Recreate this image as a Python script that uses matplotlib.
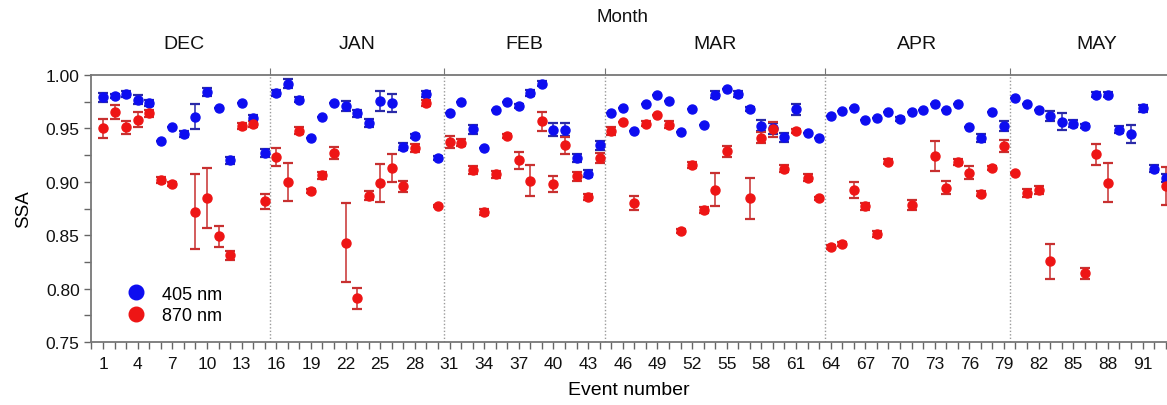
import numpy as np
import matplotlib
matplotlib.use("Agg")
import matplotlib.pyplot as plt
from matplotlib.lines import Line2D
from matplotlib.ticker import MultipleLocator, FixedLocator

plt.rcParams['font.family'] = ['Liberation Sans', 'DejaVu Sans']

nan = np.nan
events = np.arange(1, 94)

ssa405 = [0.979, 0.980, 0.982, 0.977, 0.974, 0.938, 0.951, 0.945, 0.961, 0.984,
          0.969, 0.920, 0.974, 0.9595, 0.927, 0.983, 0.992, 0.977, 0.941, 0.961,
          0.974, 0.971, 0.964, 0.955, 0.9755, 0.974, 0.933, 0.943, 0.982, 0.922,
          0.964, 0.9745, 0.949, 0.932, 0.967, 0.975, 0.971, 0.983, 0.992, 0.9486,
          0.9486, 0.9224, 0.9077, 0.934, 0.964, 0.9695, 0.948, 0.973, 0.9817, 0.9754,
          0.947, 0.968, 0.9536, 0.9817, 0.9866, 0.9822, 0.968, 0.9527, 0.950, 0.9417,
          0.968, 0.9457, 0.941, 0.9617, 0.9664, 0.9688, 0.9583, 0.960, 0.965, 0.9589,
          0.9654, 0.967, 0.9729, 0.9673, 0.9732, 0.9514, 0.941, 0.9657, 0.9523, 0.9788,
          0.9732, 0.9676, 0.9617, 0.9564, 0.9545, 0.9523, 0.9817, 0.9817, 0.9489, 0.9445,
          0.9688, 0.9124, 0.9034]
err405 = [0.004, 0.002, 0.003, 0.004, 0.003, 0, 0, 0.003, 0.012, 0.004,
          0, 0.003, 0, 0.003, 0.004, 0.003, 0.004, 0.002, 0, 0,
          0, 0.005, 0.003, 0.004, 0.0095, 0.0085, 0.003, 0.002, 0.003, 0.002,
          0, 0, 0.004, 0, 0, 0, 0.002, 0.003, 0.002, 0.006,
          0.006, 0.004, 0.003, 0.0045, 0, 0, 0, 0, 0, 0,
          0, 0, 0, 0.003, 0, 0.003, 0.002, 0.005, 0.005, 0.004,
          0.005, 0, 0, 0, 0, 0, 0, 0, 0, 0.002,
          0, 0, 0, 0, 0, 0, 0.004, 0, 0.005, 0,
          0, 0, 0.005, 0.008, 0.003, 0.002, 0.002, 0.002, 0.003, 0.0085,
          0.003, 0.003, 0.004]

ssa870 = [0.950, 0.965, 0.951, 0.958, 0.964, 0.9015, 0.898, nan, 0.872, 0.8847,
          0.849, 0.831, 0.952, 0.954, 0.882, 0.923, 0.900, 0.948, 0.8915, 0.906,
          0.927, 0.843, 0.791, 0.887, 0.899, 0.913, 0.8956, 0.9315, 0.974, 0.877,
          0.937, 0.9367, 0.911, 0.872, 0.907, 0.9427, 0.920, 0.901, 0.9567, 0.8975,
          0.934, 0.905, 0.886, 0.9224, 0.9476, 0.956, 0.880, 0.9545, 0.9626, 0.9536,
          0.854, 0.9155, 0.8734, 0.8925, 0.9286, nan, 0.8844, 0.9414, 0.949, 0.9124,
          0.9476, 0.904, 0.8844, 0.839, 0.8416, 0.8925, 0.8769, 0.851, 0.919, nan,
          0.8784, nan, 0.9243, 0.8946, 0.9187, 0.9087, 0.889, 0.9127, 0.9336, 0.9087,
          0.8893, 0.8925, 0.8254, nan, nan, 0.8142, 0.9258, 0.8993, nan, nan,
          nan, nan, 0.8962]
err870 = [0.009, 0.0065, 0.006, 0.007, 0.003, 0.003, 0.002, 0, 0.035, 0.028,
          0.010, 0.004, 0.003, 0.003, 0.007, 0.0086, 0.018, 0.003, 0.002, 0.003,
          0.006, 0.037, 0.010, 0.004, 0.018, 0.013, 0.005, 0.004, 0.003, 0.001,
          0.0055, 0.003, 0.004, 0.003, 0.003, 0.002, 0.008, 0.0145, 0.0087, 0.0075,
          0.0078, 0.004, 0.003, 0.005, 0.004, 0, 0.0067, 0.002, 0, 0.003,
          0.002, 0.003, 0.003, 0.0155, 0.005, 0, 0.019, 0.005, 0.007, 0.003,
          0.002, 0.003, 0.001, 0.002, 0.002, 0.0076, 0.003, 0.003, 0.002, 0,
          0.005, 0, 0.014, 0.006, 0.003, 0.006, 0.002, 0.002, 0.006, 0,
          0.004, 0.004, 0.0168, 0, 0, 0.005, 0.010, 0.018, 0, 0,
          0, 0, 0.018]

months = ['DEC', 'JAN', 'FEB', 'MAR', 'APR', 'MAY']
month_edges = [0.5, 15.5, 30.5, 44.5, 63.5, 79.5, 94.5]

blue = '#0d0df0'
red = '#ee1515'

W, H = 1167, 406
fig = plt.figure(figsize=(W / 100, H / 100), dpi=100)
x0, x1 = 0, 93.12
ax = fig.add_axes([91.45 / W, 63 / H, 1 - 91.45 / W, 267 / H])

for xs, ys, es, c, ec in [(events, ssa405, err405, blue, '#2a2aa8'),
                          (events, ssa870, err870, red, '#c83030')]:
    ax.errorbar(xs, ys, yerr=es, fmt='none', ecolor=ec, elinewidth=1.1,
                capsize=3.6, capthick=1.6, zorder=2, clip_on=False)
    ax.plot(xs, ys, 'o', color=c, ms=6.5, mec=c, zorder=3, clip_on=False)

for e in month_edges[1:-1]:
    ax.axvline(e, color='#9a9a9a', ls=(0, (1, 1.5)), lw=1, zorder=1)

ax.set_xlim(x0, x1)
ax.set_ylim(0.75, 1.0)
ax.xaxis.set_major_locator(FixedLocator(list(range(1, 94, 3))))
ax.xaxis.set_minor_locator(MultipleLocator(1))
ax.yaxis.set_major_locator(MultipleLocator(0.05))
ax.yaxis.set_minor_locator(MultipleLocator(0.025))
ax.yaxis.set_major_formatter(matplotlib.ticker.FormatStrFormatter('%.2f'))
ax.tick_params(which='both', direction='out', color='#666666', width=1,
               labelsize=12.5, labelcolor='#111111')
ax.tick_params(axis='x', which='both', length=5, pad=5)
ax.tick_params(axis='y', which='both', length=5)
for s in ['left', 'bottom', 'top']:
    ax.spines[s].set_color('#777777')
    ax.spines[s].set_linewidth(1.3)
ax.spines['right'].set_visible(False)

ax.set_xlabel('Event number', fontsize=14, labelpad=7)
ax.set_ylabel('SSA', fontsize=13.5, labelpad=10)

# top axis: month boundaries and names
top = ax.twiny()
top.set_xlim(x0, x1)
top.xaxis.set_major_locator(FixedLocator(month_edges[1:-1]))
top.xaxis.set_major_formatter(matplotlib.ticker.NullFormatter())
top.tick_params(axis='x', which='major', direction='out', length=5,
                color='#777777')
for s in top.spines.values():
    s.set_visible(False)
for i, m in enumerate(months):
    cx = (month_edges[i] + month_edges[i + 1]) / 2
    top.text(cx, 1.118, m, transform=top.get_xaxis_transform(), ha='center',
             va='center', fontsize=14, color='#111111')
fig.text(622 / W, 1 - 18 / H, 'Month', ha='center', va='center',
         fontsize=13.5, color='#111111')

handles = [Line2D([], [], marker='o', ls='none', color=blue, ms=10.5),
           Line2D([], [], marker='o', ls='none', color=red, ms=10.5)]
ax.legend(handles, ['405 nm', '870 nm'], loc='lower left',
          bbox_to_anchor=(0.018, 0.04), frameon=False, fontsize=13,
          handletextpad=0.45, labelspacing=0.25, borderaxespad=0)

fig.savefig('out.png', dpi=100)
